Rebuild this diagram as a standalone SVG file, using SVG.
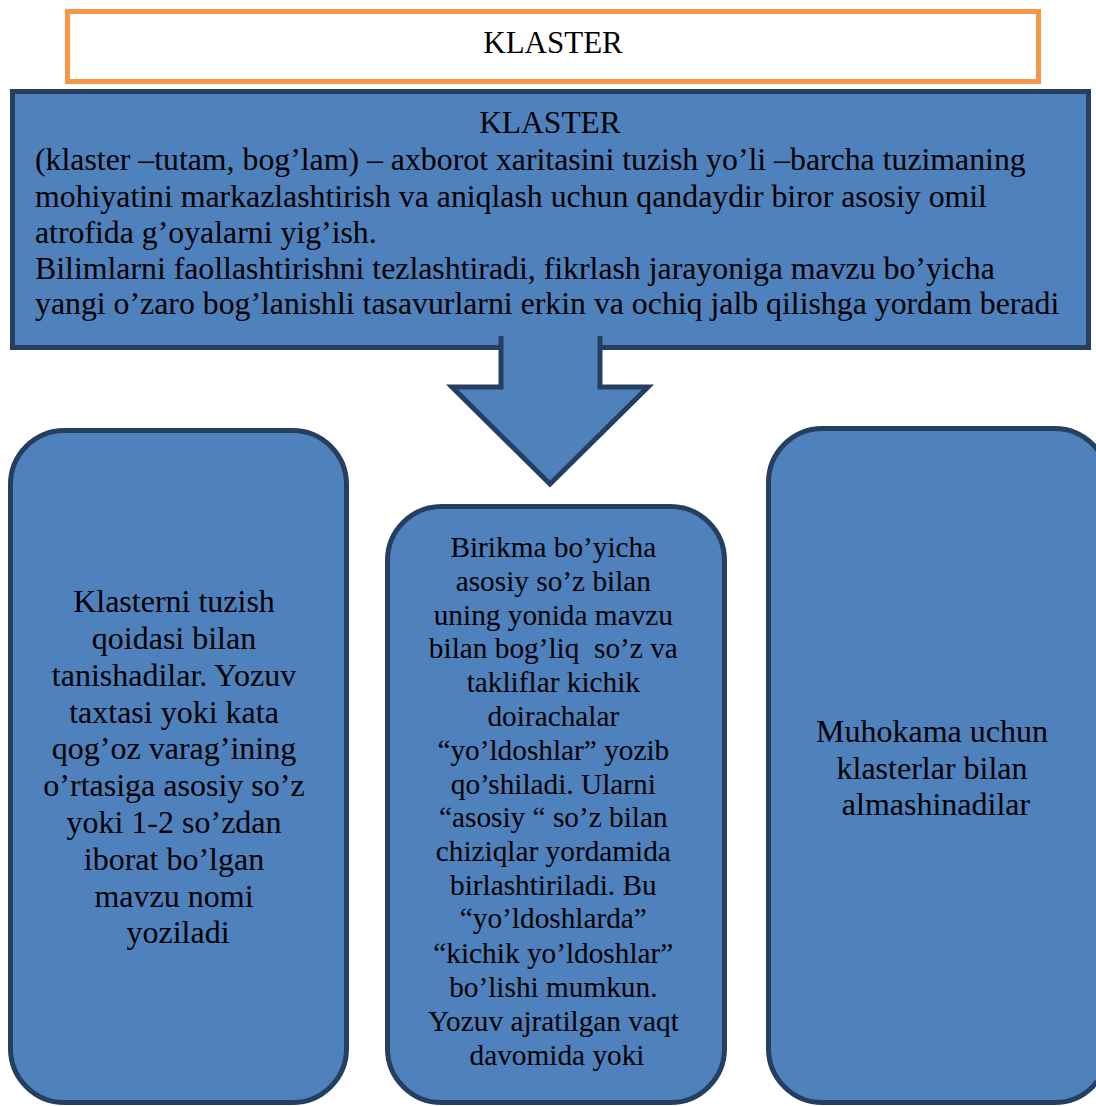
<svg xmlns="http://www.w3.org/2000/svg" width="1096" height="1106" viewBox="0 0 1096 1106">
<style>
.t{font-family:"Liberation Serif","Times New Roman",serif;fill:#000}
.b{fill:#4F81BD;stroke:#243F60;stroke-width:5}
.c{text-anchor:middle}
</style>
<rect width="1096" height="1106" fill="#fff"/>
<g id="title">
<rect x="67.5" y="11.5" width="971" height="70" fill="#fff" stroke="#F79646" stroke-width="5"/>
<text class="t c" x="553" y="53" font-size="31">KLASTER</text>
</g>
<g id="definition">
<rect class="b" x="12.5" y="91.5" width="1076" height="256"/>
<text class="t c" x="550" y="133" font-size="31.5">KLASTER</text>
<text class="t" font-size="31.8" x="35">
<tspan x="35" y="170">(klaster –tutam, bog’lam) – axborot xaritasini tuzish yo’li –barcha tuzimaning</tspan>
<tspan x="35" y="207">mohiyatini markazlashtirish va aniqlash uchun qandaydir biror asosiy omil</tspan>
<tspan x="35" y="243">atrofida g’oyalarni yig’ish.</tspan>
<tspan x="35" y="279">Bilimlarni faollashtirishni tezlashtiradi, fikrlash jarayoniga mavzu bo’yicha</tspan>
<tspan x="35" y="314">yangi o’zaro bog’lanishli tasavurlarni erkin va ochiq jalb qilishga yordam beradi</tspan>
</text>
</g>
<g id="connectors">
<path class="b" d="M501,336 L501,387 L452,387 L550,484 L648,387 L600,387 L600,336"/>
</g>
<g id="left">
<rect class="b" x="10.5" y="430.5" width="336" height="672" rx="54"/>
<text class="t c" font-size="32">
<tspan x="178" y="612">Klasterni tuzish</tspan>
<tspan x="178" y="649">qoidasi bilan</tspan>
<tspan x="178" y="686">tanishadilar. Yozuv</tspan>
<tspan x="178" y="723">taxtasi yoki kata</tspan>
<tspan x="178" y="759">qog’oz varag’ining</tspan>
<tspan x="178" y="796">o’rtasiga asosiy so’z</tspan>
<tspan x="178" y="833">yoki 1-2 so’zdan</tspan>
<tspan x="178" y="870">iborat bo’lgan</tspan>
<tspan x="178" y="907">mavzu nomi</tspan>
<tspan x="178" y="943">yoziladi</tspan>
</text>
</g>
<g id="middle">
<rect class="b" x="387.5" y="506.5" width="337" height="596" rx="54"/>
<text class="t c" font-size="29.3">
<tspan x="557" y="557">Birikma bo’yicha</tspan>
<tspan x="557" y="591">asosiy so’z bilan</tspan>
<tspan x="557" y="625">uning yonida mavzu</tspan>
<tspan x="557" y="658">bilan bog’liq&#160; so’z va</tspan>
<tspan x="557" y="692">takliflar kichik</tspan>
<tspan x="557" y="726">doirachalar</tspan>
<tspan x="557" y="760">“yo’ldoshlar” yozib</tspan>
<tspan x="557" y="794">qo’shiladi. Ularni</tspan>
<tspan x="557" y="827">“asosiy “ so’z bilan</tspan>
<tspan x="557" y="861">chiziqlar yordamida</tspan>
<tspan x="557" y="895">birlashtiriladi. Bu</tspan>
<tspan x="557" y="928">“yo’ldoshlarda”</tspan>
<tspan x="557" y="963">“kichik yo’ldoshlar”</tspan>
<tspan x="557" y="997">bo’lishi mumkun.</tspan>
<tspan x="557" y="1031">Yozuv ajratilgan vaqt</tspan>
<tspan x="557" y="1065">davomida yoki</tspan>
</text>
</g>
<g id="right">
<rect class="b" x="768.5" y="428.5" width="340" height="674" rx="54"/>
<text class="t c" font-size="32">
<tspan x="936" y="742">Muhokama uchun</tspan>
<tspan x="936" y="779">klasterlar bilan</tspan>
<tspan x="936" y="815">almashinadilar</tspan>
</text>
</g>
</svg>
